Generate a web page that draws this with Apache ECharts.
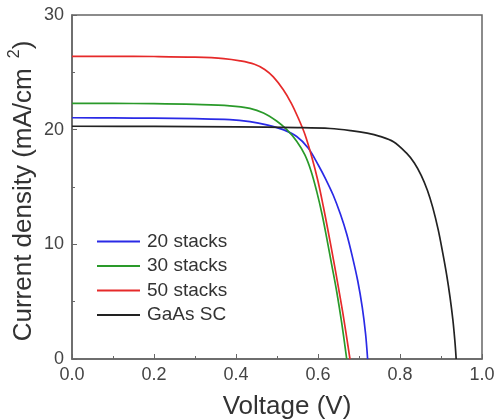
<!DOCTYPE html>
<html>
<head>
<meta charset="utf-8">
<script src="https://cdn.jsdelivr.net/npm/echarts@6/dist/echarts.min.js"></script>
<style>
  html, body { margin: 0; padding: 0; background: #fff; }
  #main { width: 495px; height: 420px; }
</style>
</head>
<body>
<div id="main"></div>
<script>
// J-V curves: [voltage (V), current density (mA/cm2)]
var seriesNames = ['20 stacks', '30 stacks', '50 stacks', 'GaAs SC']
var seriesColors = ['#2a2ae6', '#2a9a2a', '#e62a2a', '#222222']

var stacks20 = [
  [0, 21.04], [0.1, 21.02], [0.2, 21.0], [0.3, 20.96], [0.385, 20.88], [0.434, 20.7],
  [0.475, 20.42], [0.515, 20.0], [0.548, 19.4], [0.576, 18.4], [0.601, 16.9],
  [0.620, 15.6], [0.637, 14.3], [0.655, 12.6], [0.670, 10.9], [0.684, 8.9],
  [0.697, 6.8], [0.708, 4.5], [0.716, 2.2], [0.721, 0]
]
var stacks30 = [
  [0, 22.3], [0.1, 22.29], [0.2, 22.27], [0.3, 22.2], [0.385, 22.08], [0.434, 21.85],
  [0.467, 21.45], [0.499, 20.75], [0.524, 20.0], [0.548, 19.0], [0.568, 17.8],
  [0.583, 16.4], [0.597, 14.6], [0.610, 12.6], [0.621, 10.6], [0.633, 8.3],
  [0.646, 5.8], [0.658, 3.1], [0.670, 0]
]
var stacks50 = [
  [0, 26.4], [0.1, 26.4], [0.2, 26.38], [0.3, 26.32], [0.37, 26.2], [0.41, 26.0],
  [0.445, 25.7], [0.47, 25.25], [0.491, 24.6], [0.515, 23.5], [0.535, 22.3],
  [0.552, 21.0], [0.568, 19.6], [0.585, 17.6], [0.600, 15.5], [0.613, 13.3],
  [0.626, 10.9], [0.638, 8.6], [0.650, 6.2], [0.662, 3.7], [0.678, 0]
]
var gaasSC = [
  [0, 20.3], [0.2, 20.28], [0.4, 20.24], [0.55, 20.18], [0.63, 20.1], [0.68, 19.92],
  [0.72, 19.7], [0.751, 19.42], [0.784, 18.95], [0.816, 17.95], [0.835, 17.1],
  [0.852, 16.0], [0.867, 14.7], [0.880, 13.2], [0.893, 11.3], [0.904, 9.3],
  [0.914, 7.3], [0.922, 5.4], [0.929, 3.4], [0.934, 1.5], [0.937, 0]
]
var xTicks = { min: 0, max: 1.0, interval: 0.2 }
var yTicks = { min: 0, max: 30, interval: 10 }

var allData = [stacks20, stacks30, stacks50, gaasSC]
var font = 'Liberation Sans, Arial, sans-serif'

var chart = echarts.init(document.getElementById('main'))
chart.setOption({
  animation: false,
  textStyle: { fontFamily: font },
  grid: {
    left: 72, right: 13, top: 15, bottom: 61,
    outerBoundsMode: 'none',
    containLabel: false,
    show: true, borderColor: '#666', borderWidth: 1.5
  },
  legend: {
    orient: 'vertical',
    left: 92, top: 227,
    icon: 'rect',
    itemWidth: 43, itemHeight: 2,
    itemGap: 5.5,
    textStyle: { fontSize: 19, color: '#333', fontFamily: font, padding: [0, 0, 0, 2] },
    data: seriesNames
  },
  xAxis: {
    type: 'value',
    min: xTicks.min, max: xTicks.max, interval: xTicks.interval,
    name: 'Voltage (V)',
    nameLocation: 'middle',
    nameGap: 35,
    nameMoveOverlap: false,
    nameTextStyle: { fontSize: 26, color: '#333', fontFamily: font, padding: [0, 0, 0, 20] },
    axisLine: { lineStyle: { color: '#666', width: 1.5 } },
    axisTick: { inside: true, length: 5, lineStyle: { color: '#666' } },
    minorTick: { show: true, splitNumber: 2, length: 3, lineStyle: { color: '#666' } },
    axisLabel: {
      fontSize: 18, color: '#444', margin: 7,
      formatter: function (v) { return v.toFixed(1) }
    },
    splitLine: { show: false }
  },
  yAxis: {
    type: 'value',
    min: yTicks.min, max: yTicks.max, interval: yTicks.interval,
    name: 'Current density (mA/cm{sup|2})',
    nameLocation: 'middle',
    nameGap: 31,
    nameMoveOverlap: false,
    nameTextStyle: {
      fontSize: 26, color: '#333', fontFamily: font, padding: [0, 8, 0, 0],
      rich: { sup: { fontSize: 16, color: '#333', verticalAlign: 'top', padding: [0, 0, 18, 10] } }
    },
    axisLine: { lineStyle: { color: '#666', width: 1.5 } },
    axisTick: { inside: true, length: 5, lineStyle: { color: '#666' } },
    minorTick: { show: true, splitNumber: 2, length: 3, lineStyle: { color: '#666' } },
    axisLabel: { fontSize: 18, color: '#444', margin: 8 },
    splitLine: { show: false }
  },
  series: seriesNames.map(function (name, i) {
    return {
      name: name,
      type: 'line',
      data: allData[i],
      smooth: 0.35,
      showSymbol: false,
      symbol: 'none',
      color: seriesColors[i],
      lineStyle: { color: seriesColors[i], width: 1.7 }
    }
  })
})
</script>
</body>
</html>
